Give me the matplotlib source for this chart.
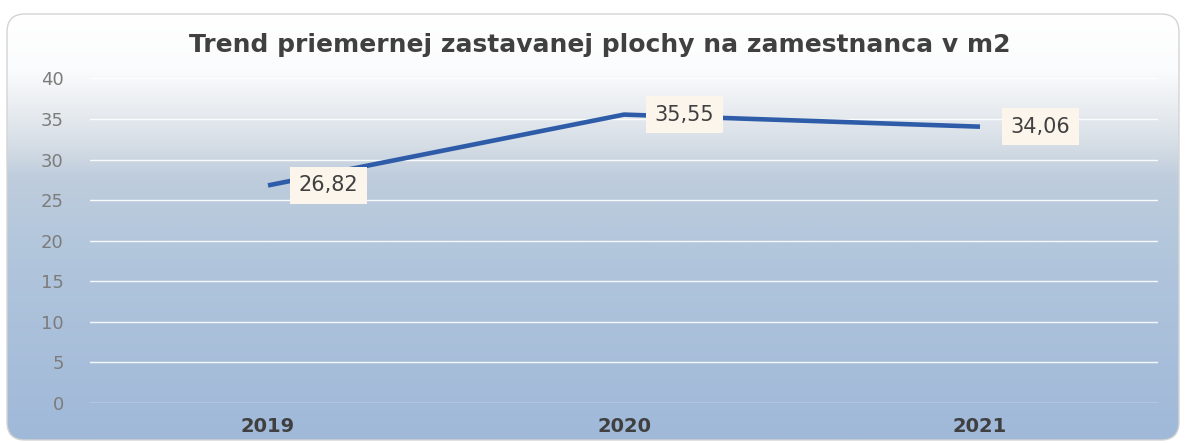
import numpy as np
import matplotlib.pyplot as plt
from matplotlib.colors import LinearSegmentedColormap
from matplotlib.patches import FancyBboxPatch

# --- data ---
years = ["2019", "2020", "2021"]
values = [26.82, 35.55, 34.06]
value_labels = ["26,82", "35,55", "34,06"]
y_ticks = [0, 5, 10, 15, 20, 25, 30, 35, 40]

TITLE = "Trend priemernej zastavanej plochy na zamestnanca v m2"

fig = plt.figure(figsize=(11.86, 4.43), dpi=100)

# background: rounded chart area with a white -> blue gradient
bg = fig.add_axes([0, 0, 1, 1])
bg.set_axis_off()
bg.set_xlim(0, 1186)
bg.set_ylim(443, 0)
box = FancyBboxPatch((7, 14), 1172, 426, boxstyle="round,pad=0,rounding_size=18",
                     fc="none", ec="#d4d4d4", lw=1, zorder=2)
bg.add_patch(box)
grad = np.linspace(0, 1, 256).reshape(-1, 1)
cmap = LinearSegmentedColormap.from_list(
    "bg", [(0, "#ffffff"), (0.13, "#fbfcfd"), (0.225, "#e8ecf0"),
           (0.32, "#d2dbe4"), (0.38, "#bfcddc"), (0.55, "#b2c6dc"),
           (1, "#a0b9d9")])
im = bg.imshow(grad, cmap=cmap, extent=(7, 1179, 440, 14), aspect="auto", zorder=1)
im.set_clip_path(box)

# plot area
ax = fig.add_axes([0.0759, 0.0903, 0.9005, 0.7325])
ax.set_facecolor("none")
x = np.arange(len(years))
ax.plot(x, values, color="#2e5ca8", lw=3.3, solid_capstyle="butt", zorder=3)

for xi, v, lab in zip(x, values, value_labels):
    ax.annotate(lab, (xi, v), xytext=(22, 0), textcoords="offset points",
                ha="left", va="center", fontsize=15, color="#404040",
                bbox=dict(boxstyle="square,pad=0.4", fc="#fcf5ec", ec="none"),
                zorder=4)

ax.set_xlim(-0.5, len(years) - 0.5)
ax.set_ylim(0, 40)
ax.set_yticks(y_ticks)
ax.set_xticks(x)
ax.set_xticklabels(years)
ax.grid(axis="y", color="white", lw=1, alpha=0.9)
ax.set_axisbelow(True)
for s in ax.spines.values():
    s.set_visible(False)
ax.tick_params(axis="y", length=0, pad=19, labelsize=13, labelcolor="#7c7c7c")
ax.tick_params(axis="x", length=0, pad=10, labelsize=14, labelcolor="#404040")
for t in ax.get_xticklabels():
    t.set_fontweight("bold")

fig.text(0.506, 1 - 52 / 443, TITLE, ha="center", va="baseline", fontsize=18,
         fontweight="bold", color="#404040")

fig.savefig("out.png", dpi=100)
